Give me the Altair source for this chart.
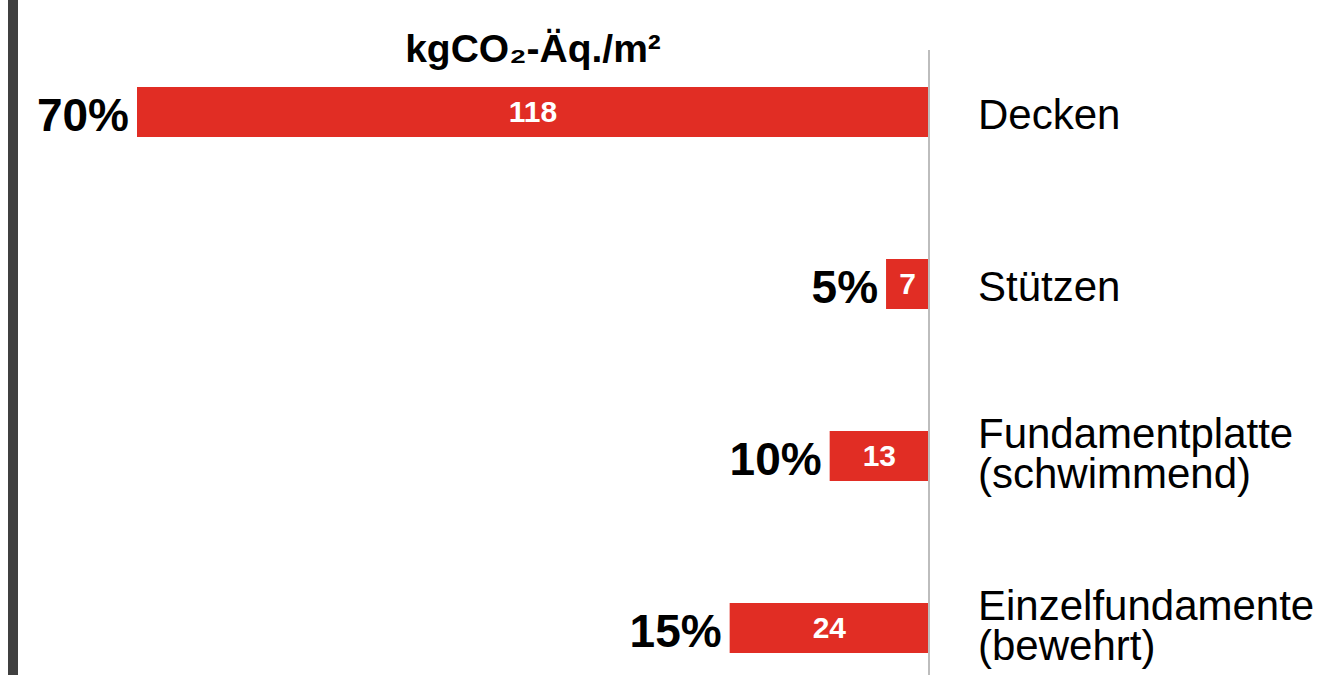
import altair as alt
import pandas as pd

categories = ["Decken", "Stützen", "Fundamentplatte\n(schwimmend)", "Einzelfundamente\n(bewehrt)"]
row = [0, 1, 2, 3]
value_labels = ["118", "7", "13", "24"]
share_labels = ["70%", "5%", "10%", "15%"]
# bar lengths as drawn in the picture (kgCO2-Äq./m²)
bar_lengths = [118, 6.4, 14.8, 29.7]
title_text = "kgCO₂-Äq./m²"

df = pd.DataFrame({
    "cat": categories,
    "row": row,
    "val": value_labels,
    "share": share_labels,
    "len": bar_lengths,
    "zero": [0, 0, 0, 0],
})

W, H = 792, 625
RED = "#e12d24"
FONT = "Liberation Sans"

xs = alt.Scale(domain=[0, 118], reverse=True, nice=False, zero=True, padding=0)
ys = alt.Scale(domain=[-0.3605, 3.2733], reverse=True, nice=False, zero=False, padding=0)

base = alt.Chart(df).encode(
    y=alt.Y("row:Q", scale=ys, axis=None)
)

bars = base.mark_bar(size=50, color=RED, orient="horizontal").encode(
    x=alt.X("len:Q", scale=xs, axis=None),
    x2=alt.X2("zero:Q"),
)

vals = base.transform_calculate(mid="datum.len / 2").mark_text(
    color="white", font=FONT, fontWeight="bold", fontSize=30, baseline="alphabetic", align="center", dy=10
).encode(x=alt.X("mid:Q", scale=xs, axis=None), text="val:N")

shares = base.mark_text(
    color="black", font=FONT, fontWeight="bold", fontSize=46, baseline="alphabetic", align="right", dx=-8, dy=19
).encode(x=alt.X("len:Q", scale=xs, axis=None), text="share:N")

cat_base = base.transform_calculate(
    parts="split(datum.cat, '\\n')"
).transform_calculate(
    nl="length(datum.parts)",
    line1="datum.parts[0]",
    line2="length(datum.parts) > 1 ? datum.parts[1] : ''",
)

cat_style = dict(color="black", font=FONT, fontSize=42, baseline="alphabetic", align="left", dx=49)

cats_single = cat_base.transform_filter("datum.nl == 1").mark_text(dy=17, **cat_style).encode(
    x=alt.X("zero:Q", scale=xs, axis=None), text="line1:N"
)
cats_first = cat_base.transform_filter("datum.nl == 2").mark_text(dy=-8, **cat_style).encode(
    x=alt.X("zero:Q", scale=xs, axis=None), text="line1:N"
)
cats_second = cat_base.transform_filter("datum.nl == 2").mark_text(dy=32, **cat_style).encode(
    x=alt.X("zero:Q", scale=xs, axis=None), text="line2:N"
)

rule = alt.Chart(df).mark_rule(color="#bdbdbd", strokeWidth=2).encode(
    x=alt.X("zero:Q", scale=xs, axis=None), y=alt.value(0), y2=alt.value(H)
)

leftbar = alt.Chart(df).mark_rule(color="#404040", strokeWidth=10).encode(
    x=alt.value(-124), y=alt.value(-50), y2=alt.value(H)
)

title = alt.Chart(df).transform_filter("datum.row == 0").transform_calculate(
    t="'" + title_text + "'"
).mark_text(
    color="black", font=FONT, fontWeight="bold", fontSize=39, baseline="alphabetic", align="center"
).encode(x=alt.value(W / 2), y=alt.value(12), text="t:N")

chart = alt.layer(
    bars, vals, shares, cats_single, cats_first, cats_second, rule, leftbar, title
).properties(
    width=W, height=H,
    autosize=alt.AutoSizeParams(type="none"),
    padding={"left": 137, "top": 50, "right": 395, "bottom": 0},
    background="white",
).configure_view(stroke=None)

chart.save("out.html", embed_options={"renderer": "svg", "actions": False})
